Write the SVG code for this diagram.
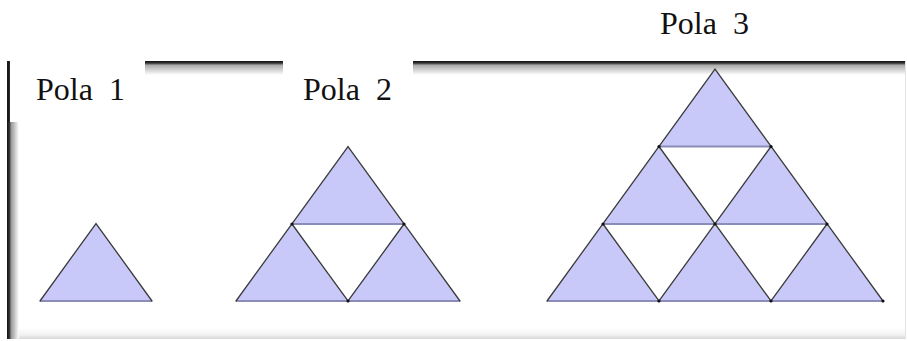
<svg xmlns="http://www.w3.org/2000/svg" width="907" height="341" viewBox="0 0 907 341">
  <defs>
    <linearGradient id="gTop" x1="0" y1="0" x2="0" y2="1">
      <stop offset="0" stop-color="#111"/>
      <stop offset="0.15" stop-color="#333"/>
      <stop offset="0.3" stop-color="#aaa"/>
      <stop offset="1" stop-color="#fff"/>
    </linearGradient>
    <linearGradient id="gLeft" x1="0" y1="0" x2="1" y2="0">
      <stop offset="0" stop-color="#111"/>
      <stop offset="0.2" stop-color="#333"/>
      <stop offset="0.35" stop-color="#999"/>
      <stop offset="1" stop-color="#fff"/>
    </linearGradient>
    <linearGradient id="gBottom" x1="0" y1="0" x2="0" y2="1">
      <stop offset="0" stop-color="#fff"/>
      <stop offset="0.6" stop-color="#f2f2f2"/>
      <stop offset="1" stop-color="#d8d8d8"/>
    </linearGradient>
  </defs>
  <style>
    .lbl { font-family: "Liberation Serif", "Times New Roman", serif; font-size: 32px; fill: #111; }
    .tri { fill: #c9c9f9; stroke: none; }
    .side { stroke: #3a3a3a; stroke-width: 1.3; fill: none; stroke-linecap: round; }
    .base { stroke: #8c8cb8; stroke-width: 1.8; fill: none; }
    .dot { fill: #111; }
  </style>

  <rect x="0" y="0" width="907" height="341" fill="#fff"/>

  <g id="frame">
    <rect x="7" y="61" width="898" height="278" fill="#fff"/>
    <rect x="7" y="328" width="898" height="11" fill="url(#gBottom)"/>
    <rect x="7" y="61" width="898" height="14" fill="url(#gTop)"/>
    <rect x="7" y="61" width="12" height="278" fill="url(#gLeft)"/>
    <line x1="905.5" y1="61" x2="905.5" y2="339" stroke="#e4e4e4" stroke-width="1"/>
    <!-- label cut-outs -->
    <rect x="10" y="50" width="135" height="72" fill="#fff"/>
    <rect x="283" y="50" width="130" height="72" fill="#fff"/>
    <rect x="7" y="61" width="2.5" height="61" fill="#1a1a1a"/>
  </g>

  <g id="label1"><text class="lbl" x="36" y="100" xml:space="preserve">Pola  1</text></g>
  <g id="label2"><text class="lbl" x="303" y="100" xml:space="preserve">Pola  2</text></g>
  <g id="label3"><text class="lbl" x="660" y="34" xml:space="preserve">Pola  3</text></g>

  <g id="pola1">
    <polygon class="tri" points="96,223.5 40,301 152,301"/>
    <line class="base" x1="40" y1="301" x2="152" y2="301"/>
    <polyline class="side" points="40,301 96,223.5 152,301"/>
  </g>

  <g id="pola2">
    <polygon class="tri" points="348,146.5 292,224 404,224"/>
    <polygon class="tri" points="292,224 236,301 348,301"/>
    <polygon class="tri" points="404,224 348,301 460,301"/>
    <line class="base" x1="292" y1="224" x2="404" y2="224"/>
    <line class="base" x1="236" y1="301" x2="460" y2="301"/>
    <polyline class="side" points="236,301 348,146.5 460,301"/>
    <polyline class="side" points="292,224 348,301 404,224"/>
    <circle class="dot" cx="292" cy="224" r="1.6"/>
    <circle class="dot" cx="404" cy="224" r="1.6"/>
    <circle class="dot" cx="348" cy="301" r="1.6"/>
  </g>

  <g id="pola3">
    <polygon class="tri" points="715,69 659,146.5 771,146.5"/>
    <polygon class="tri" points="659,146.5 603,224 715,224"/>
    <polygon class="tri" points="771,146.5 715,224 827,224"/>
    <polygon class="tri" points="603,224 547,301 659,301"/>
    <polygon class="tri" points="715,224 659,301 771,301"/>
    <polygon class="tri" points="827,224 771,301 883,301"/>
    <line class="base" x1="659" y1="146.5" x2="771" y2="146.5"/>
    <line class="base" x1="603" y1="224" x2="827" y2="224"/>
    <line class="base" x1="547" y1="301" x2="883" y2="301"/>
    <polyline class="side" points="547,301 715,69 883,301"/>
    <polyline class="side" points="603,224 659,301 771,146.5"/>
    <polyline class="side" points="659,146.5 771,301 827,224"/>
    <circle class="dot" cx="659" cy="146.5" r="1.6"/>
    <circle class="dot" cx="771" cy="146.5" r="1.6"/>
    <circle class="dot" cx="603" cy="224" r="1.6"/>
    <circle class="dot" cx="715" cy="224" r="1.6"/>
    <circle class="dot" cx="827" cy="224" r="1.6"/>
    <circle class="dot" cx="659" cy="301" r="1.6"/>
    <circle class="dot" cx="771" cy="301" r="1.6"/>
    <circle class="dot" cx="883" cy="301" r="1.6"/>
  </g>
</svg>
